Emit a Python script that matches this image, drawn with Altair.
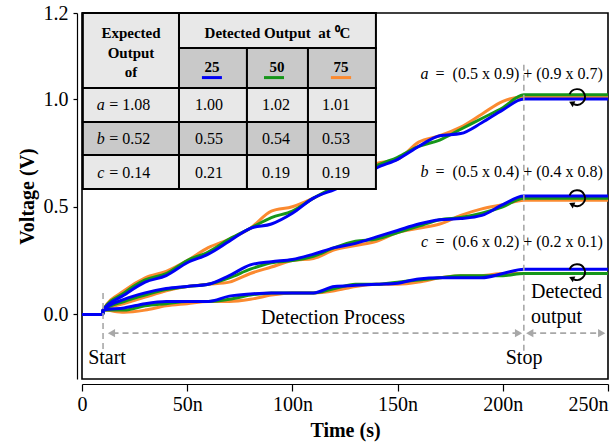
import altair as alt
import pandas as pd

# ---------------------------------------------------------------- data
# sample instants during detection (ns)
TIMES = [10, 20, 30, 40, 50, 60, 70, 80, 90, 100, 110,
         120, 130, 140, 150, 160, 170, 180, 190, 200, 210]

# output voltage (V) of each computation at each temperature
A_25 = [0.02, 0.09, 0.15, 0.18, 0.24, 0.28, 0.34, 0.40, 0.42, 0.47, 0.54,
        0.58, 0.62, 0.68, 0.72, 0.78, 0.83, 0.84, 0.89, 0.95, 1.00]
A_50 = [0.02, 0.10, 0.16, 0.19, 0.25, 0.29, 0.35, 0.40, 0.45, 0.48, 0.54,
        0.59, 0.63, 0.69, 0.73, 0.78, 0.81, 0.86, 0.91, 0.96, 1.02]
A_75 = [0.02, 0.11, 0.17, 0.20, 0.25, 0.31, 0.35, 0.40, 0.48, 0.50, 0.54,
        0.59, 0.63, 0.70, 0.72, 0.80, 0.83, 0.87, 0.93, 0.99, 1.01]

B_25 = [0.02, 0.07, 0.10, 0.12, 0.13, 0.14, 0.18, 0.23, 0.245, 0.255, 0.28,
        0.31, 0.33, 0.36, 0.39, 0.42, 0.44, 0.445, 0.46, 0.51, 0.55]
B_50 = [0.02, 0.06, 0.09, 0.115, 0.13, 0.14, 0.17, 0.21, 0.24, 0.25, 0.27,
        0.31, 0.34, 0.35, 0.38, 0.41, 0.44, 0.45, 0.47, 0.50, 0.54]
B_75 = [0.02, 0.05, 0.08, 0.11, 0.13, 0.14, 0.15, 0.19, 0.22, 0.25, 0.26,
        0.30, 0.32, 0.34, 0.38, 0.40, 0.42, 0.46, 0.49, 0.51, 0.53]

C_25 = [0.02, 0.03, 0.05, 0.06, 0.06, 0.06, 0.085, 0.095, 0.10, 0.10, 0.10,
        0.13, 0.135, 0.14, 0.145, 0.165, 0.17, 0.17, 0.17, 0.19, 0.21]
C_50 = [0.02, 0.02, 0.04, 0.05, 0.06, 0.06, 0.07, 0.09, 0.10, 0.10, 0.10,
        0.12, 0.14, 0.14, 0.15, 0.16, 0.17, 0.18, 0.18, 0.18, 0.19]
C_75 = [0.02, 0.01, 0.02, 0.04, 0.05, 0.06, 0.06, 0.07, 0.09, 0.10, 0.10,
        0.11, 0.13, 0.14, 0.14, 0.15, 0.17, 0.18, 0.18, 0.19, 0.19]

SERIES = {
    ("a", "25"): A_25, ("a", "50"): A_50, ("a", "75"): A_75,
    ("b", "25"): B_25, ("b", "50"): B_50, ("b", "75"): B_75,
    ("c", "25"): C_25, ("c", "50"): C_50, ("c", "75"): C_75,
}

TEMPS = ["25", "50", "75"]
COLORS = {"25": "#0000f5", "50": "#16961a", "75": "#fb8a30"}

# table contents
EXPECTED = {"a": "1.08", "b": "0.52", "c": "0.14"}
DETECTED = {"a": ["1.00", "1.02", "1.01"],
            "b": ["0.55", "0.54", "0.53"],
            "c": ["0.21", "0.19", "0.19"]}
FORMULAS = {"a": "=\u00a0 (0.5 x 0.9) + (0.9 x 0.7)",
            "b": "=\u00a0 (0.5 x 0.4) + (0.4 x 0.8)",
            "c": "=\u00a0 (0.6 x 0.2) + (0.2 x 0.1)"}

T_START, T_STOP, T_END = 10, 210, 250

FONT = "Liberation Serif"
GREY = "#a8a8a8"

# ---------------------------------------------------------------- frames
rows = []
for (grp, temp), vals in SERIES.items():
    pts = [(0, 0.0), (T_START - 0.1, 0.0)] + list(zip(TIMES, vals)) + [(T_END, vals[-1])]
    for t, v in pts:
        rows.append({"t": t, "v": v, "grp": grp, "temp": temp})
lines_df = pd.DataFrame(rows)

x_scale = alt.Scale(domain=[0, 250], nice=False, zero=False)
y_scale = alt.Scale(domain=[-0.3, 1.4], nice=False, zero=False)

x_axis = alt.Axis(
    values=[0, 50, 100, 150, 200, 250],
    labelExpr="datum.value == 0 ? '0' : datum.value + 'n'",
    labelAlign={"condition": {"test": "datum.value == 250", "value": "right"},
                "value": "center"},
    offset=5, tickSize=7, labelPadding=3, grid=False,
    domainColor="black", tickColor="black", domainWidth=1.2, tickWidth=1.2,
    labelFont=FONT, labelFontSize=20, labelColor="black",
    title="Time (s)", titleFont=FONT, titleFontSize=20, titleFontWeight="bold",
    titleColor="black", titlePadding=6,
)
y_axis = alt.Axis(
    values=[0, 0.5, 1.0, 1.4],
    labelExpr="datum.value > 1.3 ? '1.2' : format(datum.value, '.1f')",
    offset=5, tickSize=4, labelPadding=5, grid=False,
    domainColor="black", tickColor="black", domainWidth=1.2, tickWidth=1.2,
    labelFont=FONT, labelFontSize=20, labelColor="black",
    title="Voltage (V)", titleFont=FONT, titleFontSize=20, titleFontWeight="bold",
    titleColor="black", titlePadding=6,
)


def X(field):
    return alt.X(field, type="quantitative", scale=x_scale, axis=x_axis)


def Y(field):
    return alt.Y(field, type="quantitative", scale=y_scale, axis=y_axis)


layers = []

# curves: orange first, blue on top
for temp in ["75", "50", "25"]:
    layers.append(
        alt.Chart(lines_df)
        .transform_filter(alt.datum.temp == temp)
        .mark_line(interpolate="monotone", strokeWidth=3, color=COLORS[temp])
        .encode(x=X("t"), y=Y("v"), detail="grp:N")
    )

# dashed guides
vguides = pd.DataFrame({"t": [T_START, T_STOP], "v1": [0.10, 1.16], "v2": [-0.165, -0.17]})
layers.append(
    alt.Chart(vguides).mark_rule(color=GREY, strokeWidth=1.6, strokeDash=[6, 4])
    .encode(x=X("t"), y=Y("v1"), y2="v2")
)
hguides = pd.DataFrame({"t1": [14.5, 213.0], "t2": [207.0, 247.0], "v": [-0.087, -0.087]})
layers.append(
    alt.Chart(hguides).mark_rule(color=GREY, strokeWidth=1.8, strokeDash=[6, 4])
    .encode(x=X("t1"), x2="t2", y=Y("v"))
)
heads = pd.DataFrame({
    "t": [14.0, 207.5, 212.8, 247.0],
    "v": [-0.087] * 4,
    "shape": ["triangle-left", "triangle-right", "triangle-left", "triangle-right"],
})
layers.append(
    alt.Chart(heads).mark_point(filled=True, color=GREY, size=70, opacity=1)
    .encode(x=X("t"), y=Y("v"),
            shape=alt.Shape("shape:N", scale=None))
)

# annotation text
notes = pd.DataFrame({
    "t": [11.9, 210.1, 119.3],
    "v": [-0.202, -0.202, -0.017],
    "label": ["Start", "Stop", "Detection Process"],
})
layers.append(
    alt.Chart(notes).mark_text(font=FONT, fontSize=20, color="black", baseline="middle")
    .encode(x=X("t"), y=Y("v"), text="label:N")
)
notes_r = pd.DataFrame({"t": [213.4, 213.4], "v": [0.104, -0.012],
                        "label": ["Detected", "output"]})
layers.append(
    alt.Chart(notes_r).mark_text(font=FONT, fontSize=20, color="black",
                                 baseline="middle", align="left")
    .encode(x=X("t"), y=Y("v"), text="label:N")
)

# formulas beside the final values
form_v = {"a": 1.117, "b": 0.662, "c": 0.336}
fdf = pd.DataFrame({"grp": list(FORMULAS), "v": [form_v[g] for g in FORMULAS],
                    "rest": list(FORMULAS.values()),
                    "tg": [162.8] * 3, "tr": [247.6] * 3})
layers.append(
    alt.Chart(fdf).mark_text(font=FONT, fontSize=16, fontStyle="italic",
                             color="black", baseline="middle")
    .encode(x=X("tg"), y=Y("v"), text="grp:N")
)
layers.append(
    alt.Chart(fdf).mark_text(font=FONT, fontSize=16, color="black",
                             baseline="middle", align="right")
    .encode(x=X("tr"), y=Y("v"), text="rest:N")
)

# rotating-arrow icons at each settled output
icon_df = pd.DataFrame({
    "t": [235.3] * 3,
    "v": [sum(SERIES[(g, tp)][-1] for tp in TEMPS) / 3 for g in "abc"],
})
ARC = "M -0.94 -0.34 A 1 1 0 1 1 -0.42 0.91"
HEAD = "M -1.0 0.62 L -0.55 1.3 L -0.22 0.55 Z"
layers.append(
    alt.Chart(icon_df).mark_point(shape=ARC, filled=False, color="black",
                                  strokeWidth=1.9, size=250, opacity=1)
    .encode(x=X("t"), y=Y("v"))
)
layers.append(
    alt.Chart(icon_df).mark_point(shape=HEAD, filled=True, color="black",
                                  size=250, opacity=1, strokeWidth=0)
    .encode(x=X("t"), y=Y("v"))
)

# ---------------------------------------------------------------- table
COL = [0.4, 46.1, 78.4, 107.4, 139.7]
ROW = [1.4, 1.238, 1.052, 0.894, 0.741, 0.583]
LIGHT, DARK = "#e8e8e8", "#c9c9c9"

cells = [
    (COL[0], COL[1], ROW[0], ROW[2], LIGHT),
    (COL[1], COL[4], ROW[0], ROW[1], LIGHT),
]
for j in range(3):
    cells.append((COL[j + 1], COL[j + 2], ROW[1], ROW[2], DARK))
for r, fill in zip(range(2, 5), [LIGHT, DARK, LIGHT]):
    for j in range(4):
        cells.append((COL[j], COL[j + 1], ROW[r], ROW[r + 1], fill))
cells_df = pd.DataFrame(cells, columns=["x1", "x2", "y1", "y2", "fill"])
layers.append(
    alt.Chart(cells_df).mark_rect(stroke="black", strokeWidth=2)
    .encode(x=X("x1"), x2="x2", y=Y("y1"), y2="y2",
            fill=alt.Fill("fill:N", scale=None))
)

head_df = pd.DataFrame({
    "t": [23.3, 23.3, 23.3, 92.9, 61.8, 92.7, 123.1],
    "v": [1.307, 1.214, 1.126, 1.307, 1.149, 1.149, 1.149],
    "label": ["Expected", "Output", "of", "Detected Output\u00a0 at \u2070C"] + TEMPS,
})
layers.append(
    alt.Chart(head_df).mark_text(font=FONT, fontSize=15, fontWeight="bold",
                                 color="black", baseline="middle")
    .encode(x=X("t"), y=Y("v"), text="label:N")
)

# temperature colour keys under the header numbers
key_df = pd.DataFrame({
    "t1": [57.0, 86.5, 118.3], "t2": [66.5, 96.0, 127.9],
    "v": [1.100] * 3, "temp": TEMPS,
})
layers.append(
    alt.Chart(key_df).mark_rule(strokeWidth=3)
    .encode(x=X("t1"), x2="t2", y=Y("v"),
            color=alt.Color("temp:N", scale=alt.Scale(domain=TEMPS,
                            range=[COLORS[t] for t in TEMPS]), legend=None))
)

ROW_V = {"a": 0.973, "b": 0.815, "c": 0.657}
lab_df = pd.DataFrame({"grp": list("abc"), "v": [ROW_V[g] for g in "abc"],
                       "rest": ["= " + EXPECTED[g] for g in "abc"],
                       "tg": [8.9] * 3, "tr": [12.9] * 3})
layers.append(
    alt.Chart(lab_df).mark_text(font=FONT, fontSize=16, fontStyle="italic",
                                color="black", baseline="middle")
    .encode(x=X("tg"), y=Y("v"), text="grp:N")
)
layers.append(
    alt.Chart(lab_df).mark_text(font=FONT, fontSize=16, color="black",
                                baseline="middle", align="left")
    .encode(x=X("tr"), y=Y("v"), text="rest:N")
)

VAL_T = [60.4, 92.2, 120.7]
val_rows = []
for g in "abc":
    for j in range(3):
        val_rows.append({"t": VAL_T[j], "v": ROW_V[g], "label": DETECTED[g][j]})
layers.append(
    alt.Chart(pd.DataFrame(val_rows)).mark_text(font=FONT, fontSize=16,
                                                color="black", baseline="middle")
    .encode(x=X("t"), y=Y("v"), text="label:N")
)

chart = (
    alt.layer(*layers)
    .properties(width=526, height=366,
                autosize=alt.AutoSizeParams(type="none"),
                padding={"left": 82, "top": 13, "right": 4, "bottom": 65},
                background="white")
    .configure_view(stroke="black", strokeWidth=1.6)
)

chart.save("out.html", embed_options={"renderer": "svg", "actions": False})
